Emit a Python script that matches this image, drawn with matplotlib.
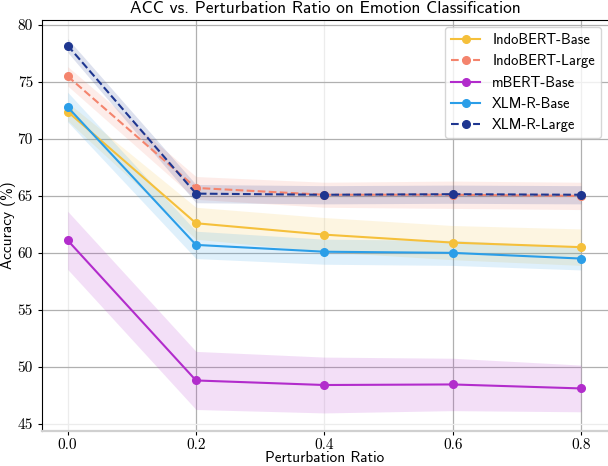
import numpy as np
import matplotlib
matplotlib.use("Agg")
import matplotlib.pyplot as plt

plt.rcParams["font.family"] = "cmss10"
plt.rcParams["axes.formatter.use_mathtext"] = True

ratios = [0.0, 0.2, 0.4, 0.6, 0.8]
models = ["IndoBERT-Base", "IndoBERT-Large", "mBERT-Base", "XLM-R-Base", "XLM-R-Large"]

indobert_base = [72.4, 62.6, 61.6, 60.9, 60.5]
indobert_large = [75.5, 65.7, 65.1, 65.1, 65.0]
mbert_base = [61.1, 48.8, 48.4, 48.45, 48.1]
xlmr_base = [72.8, 60.7, 60.1, 60.0, 59.5]
xlmr_large = [78.2, 65.2, 65.1, 65.15, 65.1]

indobert_base_std = [0.8, 1.4, 1.5, 1.5, 1.6]
indobert_large_std = [0.85, 1.0, 1.1, 1.2, 1.2]
mbert_base_std = [2.55, 2.55, 2.45, 2.3, 2.05]
xlmr_base_std = [1.3, 1.2, 1.1, 1.1, 1.0]
xlmr_large_std = [0.6, 0.8, 0.8, 0.8, 0.8]

colores = ["#f5c03b", "#f4846d", "#b22ccc", "#2b9ee8", "#1e3690"]
estilos = ["-", "--", "-", "-", "--"]

series = [indobert_base, indobert_large, mbert_base, xlmr_base, xlmr_large]
stds = [indobert_base_std, indobert_large_std, mbert_base_std, xlmr_base_std, xlmr_large_std]

fig = plt.figure(figsize=(6.08, 4.66), dpi=100)
ax = fig.add_axes([42 / 608, 1 - 430.7 / 466, 1 - 42 / 608, (430.7 - 20) / 466])

for nombre, vals, sd, c, ls in zip(models, series, stds, colores, estilos):
    vals = np.array(vals)
    sd = np.array(sd)
    ax.plot(ratios, vals, ls, color=c, marker="o", markersize=5.5, linewidth=1.5, label=nombre)
    ax.fill_between(ratios, vals - sd, vals + sd, color=c, alpha=0.15, linewidth=0)

ax.set_xlim(-0.04, 0.842)
ax.set_ylim(44.39, 80.44)
ax.set_xticks(ratios)
ax.set_yticks([45, 50, 55, 60, 65, 70, 75, 80])
ax.set_xticklabels(["0.0", "0.2", "0.4", "0.6", "0.8"], family="cmr10", fontsize=11)
ax.set_yticklabels(["45", "50", "55", "60", "65", "70", "75", "80"], family="cmr10", fontsize=11)
ax.tick_params(length=3, width=0.8)
ax.tick_params(axis="x", pad=2.5)

ax.grid(True, color="#b0b0b0", linewidth=0.9)
ax.set_axisbelow(True)
# lineas del grid mas claras como en la figura original
xg = ax.xaxis.get_gridlines()
xg[0].set_color("#ececec")
xg[2].set_color("#ececec")
ax.yaxis.get_gridlines()[0].set_color("#ececec")

ax.spines["right"].set_visible(False)
ax.spines["left"].set_color("black")
ax.spines["top"].set_color("black")
ax.spines["bottom"].set_color("#d0d0d0")
ax.spines["bottom"].set_linewidth(1.6)

ax.set_title("ACC vs. Perturbation Ratio on Emotion Classification", fontsize=12.5, pad=5)
ax.set_xlabel("Perturbation Ratio", fontsize=11, labelpad=-1)
ax.set_ylabel("Accuracy (%)", fontsize=11, labelpad=1)

ax.legend(loc="upper right", fontsize=10.5, framealpha=0.8, borderaxespad=0.5)

fig.savefig("out.png", dpi=100)
